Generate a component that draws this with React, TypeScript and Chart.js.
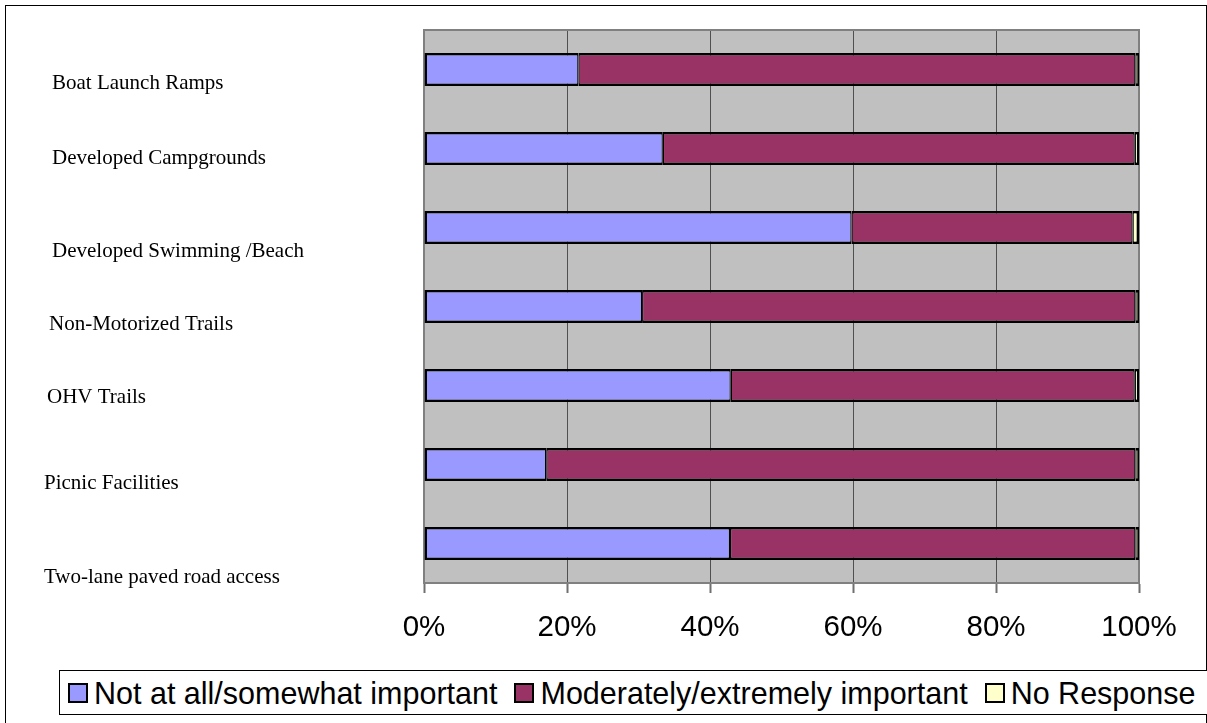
import React, { useEffect, useRef } from "react";
import { Chart, registerables } from "chart.js";

Chart.register(...registerables);

// Facility types shown on the vertical axis
const categories = [
  "Boat Launch Ramps",
  "Developed Campgrounds",
  "Developed Swimming /Beach",
  "Non-Motorized Trails",
  "OHV Trails",
  "Picnic Facilities",
  "Two-lane paved road access",
];

// Share of responses (percent) per facility
const notImportant = [21.6, 33.4, 59.8, 30.5, 42.9, 17.1, 42.8];
const important = [77.9, 66.0, 39.3, 69.0, 56.5, 82.4, 56.7];
const noResponse = [0.5, 0.6, 0.9, 0.5, 0.6, 0.5, 0.5];

const seriesNames = [
  "Not at all/somewhat important",
  "Moderately/extremely important",
  "No Response",
];
const seriesColors = ["#9999FF", "#993366", "#FFFFCC"];

const xTickValues = [0, 20, 40, 60, 80, 100];

// Hand-placed category captions: left edge and baseline shift from the band centre
const captionLeft = [52, 52, 52, 49, 47, 44, 44];
const captionShift = [19, 15.5, 29.5, 23.5, 17.5, 24.5, 39.5];

const W = 1207;
const H = 723;

const plotFrame = {
  id: "plotFrame",
  beforeDraw(chart: any) {
    const { ctx, chartArea: a } = chart;
    ctx.save();
    ctx.fillStyle = "#C0C0C0";
    ctx.fillRect(a.left, a.top, a.right - a.left, a.bottom - a.top);
    ctx.restore();
  },
  beforeDatasetsDraw(chart: any) {
    const { ctx, chartArea: a } = chart;
    ctx.save();
    ctx.strokeStyle = "#808080";
    ctx.lineWidth = 2;
    ctx.strokeRect(a.left, a.top, a.right - a.left, a.bottom - a.top);
    ctx.restore();
  },
};

const categoryCaptions = {
  id: "categoryCaptions",
  afterDraw(chart: any) {
    const { ctx } = chart;
    const yScale = chart.scales.y;
    ctx.save();
    ctx.font = '21px "Liberation Serif", "Times New Roman", serif';
    ctx.fillStyle = "#000";
    ctx.textAlign = "left";
    ctx.textBaseline = "alphabetic";
    categories.forEach((label, i) => {
      ctx.fillText(label, captionLeft[i], yScale.getPixelForValue(i) + captionShift[i]);
    });
    ctx.restore();
  },
};

export default function App() {
  const canvasRef = useRef<HTMLCanvasElement | null>(null);

  useEffect(() => {
    const canvas = canvasRef.current;
    if (!canvas) return;
    const values = [notImportant, important, noResponse];
    const borders = [
      { top: 2.5, bottom: 2.5, left: 2.5, right: 1.25 },
      { top: 2.5, bottom: 2.5, left: 1.25, right: 1.25 },
      { top: 2.5, bottom: 2.5, left: 1.25, right: 2.5 },
    ];
    const chart = new Chart(canvas, {
      type: "bar",
      data: {
        labels: categories,
        datasets: seriesNames.map((name, k) => ({
          label: name,
          data: values[k],
          backgroundColor: seriesColors[k],
          borderColor: "#000000",
          borderWidth: borders[k],
          borderSkipped: false,
          barPercentage: 0.418,
          categoryPercentage: 1,
        })),
      },
      options: {
        indexAxis: "y",
        responsive: false,
        animation: false,
        devicePixelRatio: 1,
        layout: { padding: { left: 424, right: 68, top: 30, bottom: 0 } },
        plugins: {
          legend: { display: false },
          tooltip: { enabled: false },
          title: { display: false },
        },
        scales: {
          x: {
            type: "linear",
            stacked: true,
            min: 0,
            max: 100,
            position: "bottom",
            afterBuildTicks: (scale: any) => {
              scale.ticks = xTickValues.map((v) => ({ value: v }));
            },
            afterFit: (scale: any) => {
              scale.height = 140;
            },
            ticks: {
              callback: (v: any) => v + "%",
              color: "#000",
              padding: 17,
              maxRotation: 0,
              autoSkip: false,
              font: { family: '"Liberation Sans", Arial, sans-serif', size: 29.5 },
            },
            grid: {
              color: "#505050",
              lineWidth: 1,
              drawTicks: true,
              tickLength: 10,
              tickColor: "#707070",
              tickWidth: 2,
            },
            border: { display: true, color: "#808080", width: 2 },
          },
          y: {
            type: "category",
            stacked: true,
            display: false,
            offset: true,
          },
        },
      },
      plugins: [plotFrame, categoryCaptions],
    } as any);
    return () => chart.destroy();
  }, []);

  const legendFont = '"Liberation Sans", Arial, sans-serif';

  return (
    <div
      style={{
        position: "absolute",
        left: 0,
        top: 0,
        width: W,
        height: H,
        overflow: "hidden",
        background: "#ffffff",
      }}
    >
      <canvas ref={canvasRef} width={W} height={H} style={{ position: "absolute", left: 0, top: 0 }} />
      <div
        style={{
          position: "absolute",
          left: 5,
          top: 5,
          width: 1202,
          height: 722,
          boxSizing: "border-box",
          border: "1px solid #000",
          pointerEvents: "none",
        }}
      />
      <div
        style={{
          position: "absolute",
          left: 59,
          top: 670,
          width: 1180,
          height: 45,
          boxSizing: "border-box",
          border: "1px solid #000",
          background: "#fff",
          display: "flex",
          alignItems: "center",
          paddingLeft: 8,
          fontFamily: legendFont,
          fontSize: 30.5,
          color: "#000",
          whiteSpace: "nowrap",
        }}
      >
        {seriesNames.map((name, k) => (
          <span
            key={name}
            style={{ display: "inline-flex", alignItems: "center", marginRight: 17 }}
          >
            <span
              style={{
                display: "inline-block",
                width: 20,
                height: 20,
                boxSizing: "border-box",
                border: "2px solid #000",
                background: seriesColors[k],
                marginRight: 6,
              }}
            />
            <span style={{ lineHeight: "34px" }}>{name}</span>
          </span>
        ))}
      </div>
    </div>
  );
}
